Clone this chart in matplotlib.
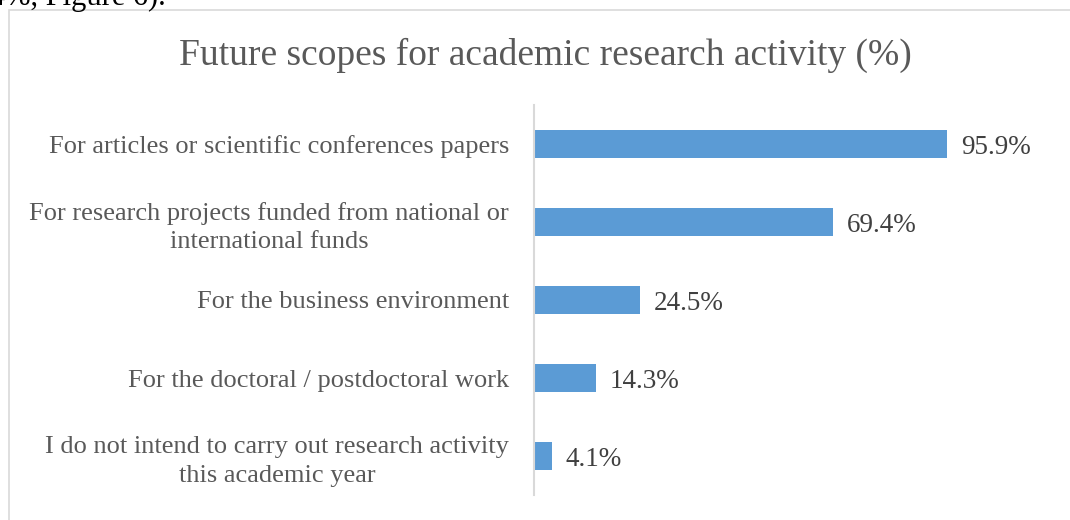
import matplotlib.pyplot as plt
from matplotlib.patches import Rectangle

categories = [
    "For articles or scientific conferences papers",
    "For research projects funded from national or\ninternational funds",
    "For the business environment",
    "For the doctoral / postdoctoral work",
    "I do not intend to carry out research activity\nthis academic year",
]
values = [95.9, 69.4, 24.5, 14.3, 4.1]
title = "Future scopes for academic research activity (%)"

W, H = 1070, 520
fig = plt.figure(figsize=(W / 100, H / 100), dpi=100)
plt.rcParams['font.family'] = ['Liberation Serif', 'DejaVu Serif']

# chart frame
fig.patches.append(Rectangle((8.5 / W, -0.05), 1.2, 1 - 9.5 / H + 0.05,
                             transform=fig.transFigure, fill=False,
                             edgecolor='#D9D9D9', linewidth=1.2))

# trailing line of surrounding document text
fig.text(-10 / W, 1 - 5 / H, "4%, Figure 6).", fontsize=22, color='black',
         ha='left', va='baseline')

left, right = 534, 534 + 4.307 * 100
top, bottom = 105, 495
ax = fig.add_axes([left / W, 1 - bottom / H, (right - left) / W, (bottom - top) / H])

n = len(categories)
ypos = list(range(n))[::-1]
ax.barh(ypos, values, height=0.35, color='#5B9BD5', zorder=2)
ax.set_xlim(0, 100)
ax.set_ylim(-0.5, n - 0.5)

for y, v in zip(ypos, values):
    ax.text(v + 3.2, y, f"{v:.1f}%", va='center_baseline', ha='left',
            fontsize=19.5, color='#404040')

ax.set_yticks(ypos)
ax.set_yticklabels(categories, fontsize=19, color='#595959',
                   multialignment='center', linespacing=1.38)
ax.tick_params(axis='y', length=0, pad=18)
ax.set_xticks([])
for s in ['top', 'right', 'bottom']:
    ax.spines[s].set_visible(False)
ax.spines['left'].set_color('#D9D9D9')
ax.spines['left'].set_linewidth(1.5)
ax.patch.set_alpha(0)

fig.text(545 / W, 1 - 55 / H, title, ha='center', va='center',
         fontsize=27, color='#595959')

fig.savefig('out.png', dpi=100)
